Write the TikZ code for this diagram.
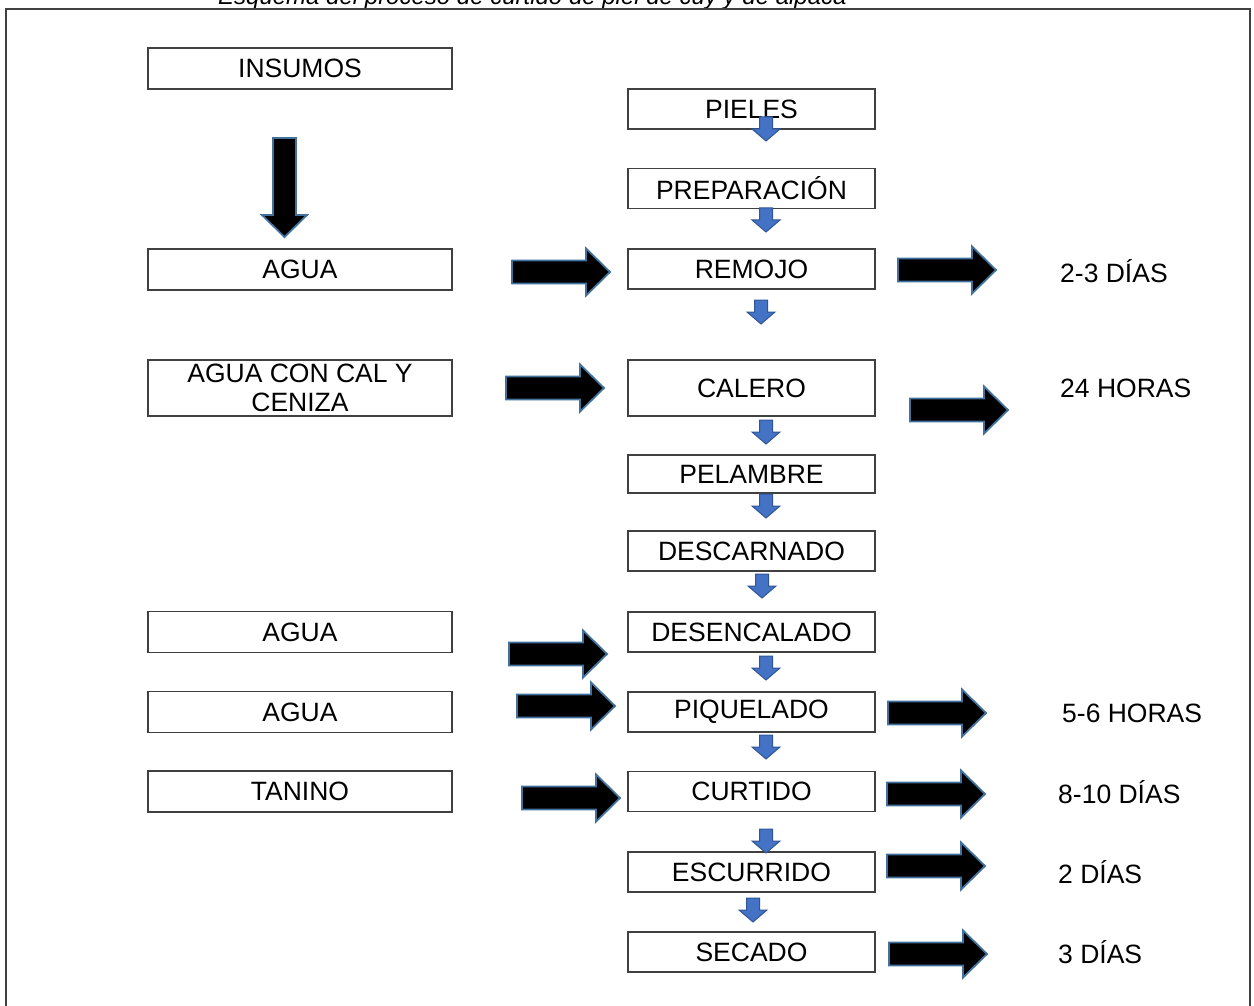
\documentclass[tikz,border=0pt]{standalone}
\usepackage{fontspec}
\setmainfont{Liberation Sans}
\definecolor{boxline}{HTML}{404040}
\definecolor{arrowedge}{HTML}{41719C}
\definecolor{bluefill}{HTML}{4472C4}
\definecolor{blueedge}{HTML}{2F5597}
\begin{document}
\begin{tikzpicture}[x=1pt,y=-1pt,
  every node/.style={font=\fontsize{26.5}{29}\selectfont, inner sep=0pt},
  lbox/.style={draw=boxline, line width=1.4pt, minimum width=304pt, minimum height=41pt, align=center},
  mbox/.style={draw=boxline, line width=1.4pt, minimum width=247pt, minimum height=40pt, align=center},
  lbl/.style={anchor=west},
  blk/.style={fill=black, draw=arrowedge, line width=1.8pt, line join=miter},
  blu/.style={fill=bluefill, draw=blueedge, line width=1pt, line join=miter},
  rarrow/.pic={\path[blk] (0,-11.5) -- (74,-11.5) -- (74,-23.5) -- (98,0) -- (74,23.5) -- (74,11.5) -- (0,11.5) -- cycle;},
  darrow/.pic={\path[blu] (-6.5,0) -- (6.5,0) -- (6.5,12) -- (14,12) -- (0,24) -- (-14,12) -- (-6.5,12) -- cycle;}
]
\useasboundingbox (0,0) rectangle (1254,1006);
\clip (0,0) rectangle (1254,1006);
\fill[white] (0,0) rectangle (1254,1006);
% title (cut at top)
\node[anchor=base west, font=\fontsize{24}{28}\selectfont\itshape] (title) at (218,5) {Esquema del proceso de curtido de piel de cuy y de alpaca};
% frame
\draw[boxline, line width=2pt] (6,1010) -- (6,9) -- (1250,9) -- (1250,1010);

% left column
\node[lbox] (ins) at (300,68.5) {INSUMOS};
\node[lbox] (agua1) at (300,269.5) {AGUA};
\node[lbox, minimum height=56pt] (cal) at (300,388) {AGUA CON CAL Y\\CENIZA};
\node[lbox] (agua2) at (300,632) {AGUA};
\node[lbox] (agua3) at (300,712) {AGUA};
\node[lbox] (tanino) at (300,791.5) {TANINO};

% middle column
\node[mbox] (piel) at (751.5,109) {PIELES};
\node[mbox] (prep) at (751.5,188.5) {PREPARACIÓN};
\node[mbox] (remojo) at (751.5,269) {REMOJO};
\node[mbox, minimum height=56pt] (calero) at (751.5,388) {CALERO};
\node[mbox, minimum height=38pt] (pelambre) at (751.5,474) {PELAMBRE};
\node[mbox] (descarnado) at (751.5,551) {DESCARNADO};
\node[mbox] (desenc) at (751.5,632) {DESENCALADO};
\node[mbox] (piq) at (751.5,712) {PIQUELADO};
\node[mbox] (curtido) at (751.5,791.5) {CURTIDO};
\node[mbox] (escurrido) at (751.5,872) {ESCURRIDO};
\node[mbox] (secado) at (751.5,952) {SECADO};

% right labels
\node[lbl] (t1) at (1060,271) {2-3 DÍAS};
\node[lbl] (t2) at (1060,388) {24 HORAS};
\node[lbl] (t3) at (1062,713) {5-6 HORAS};
\node[lbl] (t4) at (1058,792) {8-10 DÍAS};
\node[lbl] (t5) at (1058,872) {2 DÍAS};
\node[lbl] (t6) at (1058,952) {3 DÍAS};

% big down arrow under INSUMOS
\path[blk] (273,138) -- (296,138) -- (296,215) -- (307,215) -- (284.5,237) -- (262,215) -- (273,215) -- cycle;

% input arrows
\pic at (512,272) {rarrow};
\pic at (506,388) {rarrow};
\pic at (509,654) {rarrow};
\pic at (517,706) {rarrow};
\pic at (522,798) {rarrow};

% output arrows
\pic at (898,270) {rarrow};
\pic at (910,410) {rarrow};
\pic at (888,713) {rarrow};
\pic at (887,794) {rarrow};
\pic at (887,866) {rarrow};
\pic at (889,954) {rarrow};

% small blue down arrows
\pic at (766,117) {darrow};
\pic at (766,208) {darrow};
\pic at (761,300) {darrow};
\pic at (766,420) {darrow};
\pic at (766,494) {darrow};
\pic at (762,574) {darrow};
\pic at (766,656) {darrow};
\pic at (766,735) {darrow};
\pic at (766,829) {darrow};
\pic at (753,898) {darrow};
\end{tikzpicture}
\end{document}
